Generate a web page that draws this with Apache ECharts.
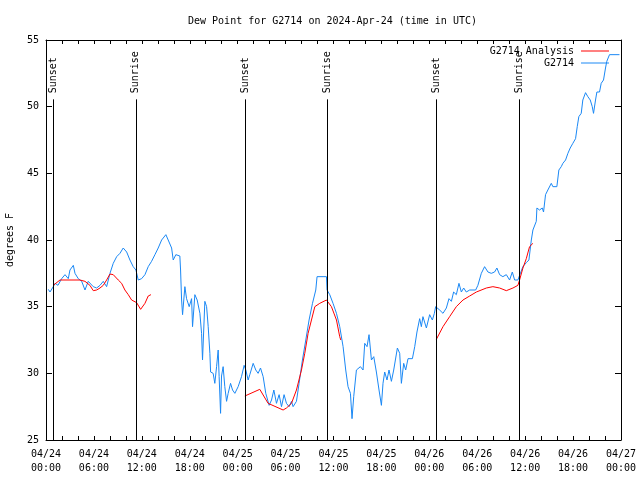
<!DOCTYPE html>
<html>
<head>
<meta charset="utf-8">
<script src="https://cdn.jsdelivr.net/npm/echarts@6/dist/echarts.min.js"></script>
<style>
html,body{margin:0;padding:0;background:#fff;}
#chart{width:640px;height:480px;}
</style>
</head>
<body>
<div id="chart"></div>
<script>
// ---- data (hours since 2024-04-24 00:00 UTC) ----
const titleText = 'Dew Point for G2714 on 2024-Apr-24 (time in UTC)';
const yAxisName = 'degrees F';
const xTickLabels = ['04/24\n00:00','04/24\n06:00','04/24\n12:00','04/24\n18:00',
  '04/25\n00:00','04/25\n06:00','04/25\n12:00','04/25\n18:00',
  '04/26\n00:00','04/26\n06:00','04/26\n12:00','04/26\n18:00','04/27\n00:00'];

const obsName = 'G2714';
const obsHours = [0.29,0.50,0.91,1.13,1.50,1.96,2.38,2.79,3.00,3.42,3.63,4.04,4.47,4.88,5.29,5.92,6.34,6.76,7.17,7.59,
  8.01,8.42,8.85,9.26,9.67,10.10,10.51,10.92,11.26,11.55,11.97,12.39,12.80,13.22,13.64,14.05,14.48,15.01,15.30,15.73,
  15.93,16.26,16.76,16.85,16.98,17.10,17.39,17.60,17.93,18.23,18.35,18.64,18.93,19.27,19.48,19.60,19.89,20.11,20.31,20.52,
  20.61,20.93,21.14,21.36,21.56,21.68,21.86,21.98,22.18,22.39,22.61,22.81,23.11,23.36,23.65,24.06,24.48,24.81,25.02,25.31,
  25.52,25.94,26.27,26.56,26.86,27.19,27.52,27.94,28.24,28.53,28.86,29.19,29.49,29.81,30.11,30.44,30.74,30.94,31.36,31.69,
  32.11,32.53,32.94,33.37,33.78,33.94,34.69,35.12,35.19,35.53,35.94,36.37,36.78,37.20,37.53,37.82,38.12,38.32,38.53,38.87,
  39.37,39.70,39.91,40.20,40.45,40.75,41.04,41.37,41.70,42.00,42.20,42.41,42.70,42.95,43.25,43.54,43.79,44.00,44.29,44.50,
  44.79,45.04,45.33,45.88,46.17,46.45,46.79,47.00,47.20,47.63,48.04,48.38,48.63,48.79,49.29,49.71,50.13,50.46,50.76,51.04,
  51.38,51.71,52.01,52.30,52.63,53.05,53.80,54.08,54.51,54.92,55.34,55.76,56.17,56.46,56.80,57.21,57.64,58.05,58.39,58.68,
  59.09,59.30,59.71,60.14,60.47,60.77,60.97,61.39,61.47,61.80,62.14,62.30,62.55,62.84,63.27,63.47,63.97,64.22,64.52,64.72,
  65.06,65.35,65.64,65.97,66.31,66.52,66.72,67.02,67.22,67.56,67.85,68.15,68.40,68.56,68.81,68.98,69.31,69.52,69.81,70.06,
  70.22,70.56,71.81];
const obsValues = [36.3,36.1,36.5,36.75,36.6,37.1,37.4,37.1,37.75,38.1,37.5,37.1,36.9,36.25,36.9,36.5,36.4,36.6,36.9,36.5,
  37.5,38.25,38.75,39.0,39.4,39.1,38.5,38.0,37.75,37.0,37.1,37.4,38.0,38.4,38.9,39.4,40.0,40.4,40.0,39.4,
  38.5,38.9,38.8,37.75,35.5,34.4,36.5,35.6,35.0,35.6,33.5,35.9,35.5,34.5,33.0,31.0,35.4,35.0,33.5,31.5,
  30.1,30.0,29.25,30.5,31.75,29.75,27.0,29.8,30.5,29.0,27.9,28.5,29.25,28.75,28.5,29.0,29.75,30.6,30.25,29.5,
  29.9,30.75,30.25,30.0,30.4,29.75,28.5,27.6,28.0,28.75,27.75,28.4,27.5,28.4,27.75,27.5,27.9,27.5,27.9,29.25,
  31.0,32.5,34.0,35.25,36.25,37.25,37.25,37.25,36.25,35.9,35.25,34.5,33.5,32.0,30.25,29.0,28.5,26.6,28.25,30.25,
  30.5,30.25,32.25,32.0,32.9,31.0,31.25,30.1,28.75,27.6,29.25,30.1,29.5,30.25,29.4,30.25,30.1,31.9,31.5,29.25,
  30.75,30.25,31.1,31.1,32.0,33.1,34.1,33.5,34.25,33.4,34.4,34.0,34.5,35.0,34.75,34.5,34.9,35.6,35.4,36.1,
  35.9,36.75,36.1,36.4,36.1,36.25,36.25,36.6,37.5,38.0,37.6,37.5,37.6,37.9,37.4,37.25,37.4,37.0,37.6,37.0,
  37.0,37.1,38.0,38.3,38.5,40.0,40.75,41.4,42.4,42.25,42.4,42.1,43.4,43.75,44.25,44.0,44.0,45.25,45.5,45.75,
  46.0,46.5,46.9,47.25,47.6,48.5,49.25,49.5,50.5,51.05,50.75,50.5,50.0,49.5,50.5,51.1,51.1,51.75,52.0,52.9,
  53.4,53.9,53.9];

const anaName = 'G2714 Analysis';
const anaHours = [0.91,1.75,4.25,4.88,5.50,5.92,6.34,6.76,7.17,7.59,8.01,8.42,9.05,9.47,9.88,10.30,10.72,11.35,11.85,12.39,12.80,13.14,
  13.5,
  24.90,26.77,27.02,27.81,29.69,30.11,30.74,31.36,31.99,32.40,32.82,33.24,33.66,34.28,35.12,35.74,36.37,36.78,36.91,
  37.5,
  48.88,49.71,50.54,51.38,52.21,53.05,53.89,55.14,55.96,56.80,57.64,58.47,59.09,59.30,59.72,60.14,60.55,60.97];
const anaValues = [36.6,37.0,37.0,36.9,36.6,36.2,36.25,36.4,36.6,37.0,37.45,37.4,37.0,36.75,36.25,35.9,35.5,35.3,34.8,35.25,35.8,35.9,
  null,
  28.3,28.8,28.75,27.75,27.25,27.4,27.75,28.75,30.25,31.5,33.0,34.0,35.0,35.25,35.5,35.0,34.0,32.75,32.5,
  null,
  32.55,33.5,34.25,35.0,35.5,35.8,36.1,36.4,36.5,36.4,36.2,36.4,36.6,37.0,37.9,38.6,39.5,39.75];

const sunHours = [0.9, 11.25, 24.92, 35.22, 48.9, 59.22];
const sunLabels = ['Sunset','Sunrise','Sunset','Sunrise','Sunset','Sunrise'];

// ---- chart ----
const FONT = 'DejaVu Sans Mono';
const chart = echarts.init(document.getElementById('chart'), null, {renderer: 'canvas'});
const pair = (hs, vs) => hs.map((h, i) => [h, vs[i] === null ? '-' : vs[i]]);

const xCommon = {
  type: 'value', min: 0, max: 72, interval: 6,
  axisLine: {show: true, onZero: false, lineStyle: {color: '#000', width: 1}},
  axisTick: {show: true, inside: true, length: 4, lineStyle: {color: '#000'}},
  minorTick: {show: true, splitNumber: 3, length: 4, lineStyle: {color: '#000'}},
  splitLine: {show: false}, minorSplitLine: {show: false}
};
const yCommon = {
  type: 'value', min: 25, max: 55, interval: 5,
  axisLine: {show: true, onZero: false, lineStyle: {color: '#000', width: 1}},
  axisTick: {show: true, inside: true, length: 6, lineStyle: {color: '#000'}},
  splitLine: {show: false}
};

chart.setOption({
  animation: false,
  backgroundColor: '#fff',
  title: {
    text: titleText, left: 188, top: 16, padding: 0,
    textStyle: {fontFamily: FONT, fontSize: 10, fontWeight: 'normal', color: '#000'}
  },
  legend: {
    data: [anaName, obsName],
    orient: 'vertical', align: 'right', right: 31, top: 45, padding: 0,
    icon: 'rect', itemWidth: 28, itemHeight: 1, itemGap: 0,
    textStyle: {fontFamily: FONT, fontSize: 10, color: '#000', lineHeight: 12, height: 12, padding: [0, 2, 0, 0]}
  },
  grid: {left: 46, right: 19, top: 40, bottom: 40, show: false,
    containLabel: false, outerBoundsMode: 'none'},
  xAxis: [
    Object.assign({}, xCommon, {
      position: 'bottom',
      axisLabel: {show: true, margin: 7, fontFamily: FONT, fontSize: 10, color: '#000', lineHeight: 14,
        formatter: v => xTickLabels[Math.round(v / 6)]}
    }),
    Object.assign({}, xCommon, {position: 'top', axisLabel: {show: false}})
  ],
  yAxis: [
    Object.assign({}, yCommon, {
      position: 'left',
      name: yAxisName, nameLocation: 'middle', nameGap: 31,
      nameTextStyle: {fontFamily: FONT, fontSize: 10, color: '#000'},
      axisLabel: {show: true, margin: 7, fontFamily: FONT, fontSize: 10, color: '#000'}
    }),
    Object.assign({}, yCommon, {position: 'right', axisLabel: {show: false}})
  ],
  series: [
    {
      name: obsName, type: 'line', xAxisIndex: 0, yAxisIndex: 0,
      data: pair(obsHours, obsValues),
      symbol: 'none', showSymbol: false,
      lineStyle: {color: '#1a88f5', width: 1}, itemStyle: {color: '#1a88f5'},
      z: 2,
      markLine: {
        silent: true, symbol: ['none', 'none'],
        lineStyle: {color: '#000', width: 1, type: 'solid'},
        label: {show: false},
        data: sunHours.map(h => [{coord: [h, 25]}, {coord: [h, 50.55]}])
      }
    },
    {
      name: anaName, type: 'line', xAxisIndex: 0, yAxisIndex: 0,
      data: pair(anaHours, anaValues),
      symbol: 'none', showSymbol: false, connectNulls: false,
      lineStyle: {color: '#ff0000', width: 1}, itemStyle: {color: '#ff0000'},
      z: 3
    }
  ]
});

// Sunrise / Sunset labels placed above their lines
const labelTopValue = 51.0;
chart.setOption({
  graphic: sunHours.map((h, i) => {
    const p = chart.convertToPixel({xAxisIndex: 0, yAxisIndex: 0}, [h, labelTopValue]);
    return {
      type: 'text', x: p[0], y: p[1], rotation: Math.PI / 2, silent: true,
      style: {text: sunLabels[i], align: 'left', verticalAlign: 'middle',
        font: '10px "' + FONT + '"', fill: '#000'}
    };
  })
});
</script>
</body>
</html>
